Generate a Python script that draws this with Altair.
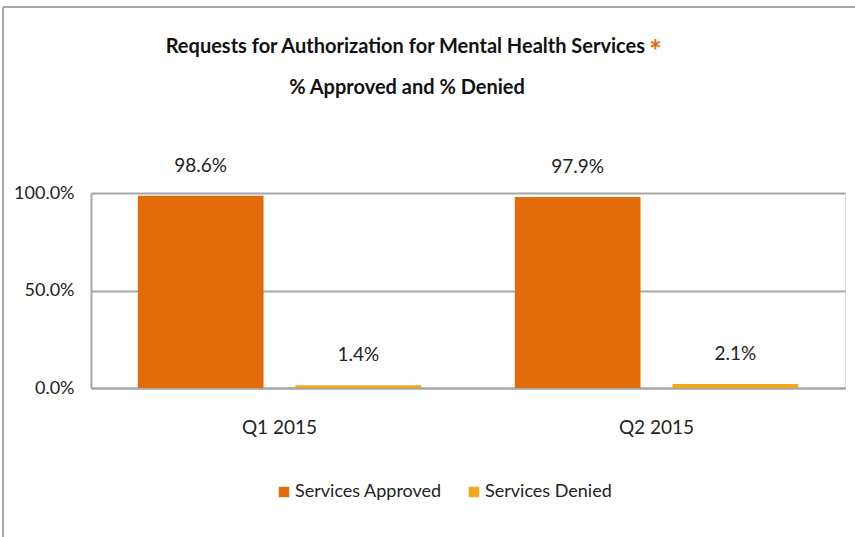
import altair as alt
import pandas as pd

quarters = ["Q1 2015", "Q1 2015", "Q2 2015", "Q2 2015"]
series = ["Services Approved", "Services Denied", "Services Approved", "Services Denied"]
values = [0.986, 0.014, 0.979, 0.021]
labels = ["98.6%", "1.4%", "97.9%", "2.1%"]
y_ticks = [0.0, 0.5, 1.0]
series_order = ["Services Approved", "Services Denied"]
series_colors = ["#E36C0A", "#F2A81D"]
title_line1 = "Requests for Authorization for Mental Health Services"
title_line2 = "% Approved and % Denied"

df = pd.DataFrame({"quarter": quarters, "series": series, "value": values, "label": labels})

FONT = "Lato"
FS = 19

base = alt.Chart(df)

bars = base.mark_bar().encode(
    x=alt.X("quarter:N", title=None,
            scale=alt.Scale(paddingInner=0, paddingOuter=0),
            axis=alt.Axis(labelAngle=0, ticks=False, domain=True, domainColor="#A6A6A6",
                          domainWidth=2, labelPadding=30, labelFontSize=FS,
                          labelFont=FONT, labelColor="#222222")),
    xOffset=alt.XOffset("series:N", sort=series_order,
                        scale=alt.Scale(paddingInner=0.2025, paddingOuter=0.297)),
    y=alt.Y("value:Q", title=None,
            scale=alt.Scale(domain=[0, 1]),
            axis=alt.Axis(values=y_ticks, format=".1%", ticks=False, domain=True,
                          domainColor="#A6A6A6", domainWidth=2, gridColor="#A6A6A6",
                          gridWidth=2, labelPadding=17, labelFontSize=18,
                          labelFont=FONT, labelColor="#222222")),
    color=alt.Color("series:N", sort=series_order,
                    scale=alt.Scale(domain=series_order, range=series_colors),
                    legend=alt.Legend(title=None, orient="none", direction="horizontal",
                                      legendX=184, legendY=290, symbolType="square",
                                      symbolSize=110, symbolStrokeWidth=0,
                                      labelFontSize=18, labelFont=FONT, labelLimit=0,
                                      labelColor="#222222", columnPadding=23,
                                      labelOffset=2)),
)

text = base.mark_text(baseline="bottom", dy=-20, fontSize=FS, font=FONT, color="#222222").encode(
    x=alt.X("quarter:N"),
    xOffset=alt.XOffset("series:N", sort=series_order),
    y=alt.Y("value:Q"),
    text="label:N",
)

t1 = alt.Chart(pd.DataFrame({"t": [title_line1]})).mark_text(
    fontSize=20, fontWeight="bold", font=FONT, color="#111111", align="right", baseline="middle"
).encode(x=alt.value(554), y=alt.value(-146), text="t:N")
ast = alt.Chart(pd.DataFrame({"t": ["*"]})).mark_text(
    fontSize=30, fontWeight="bold", font=FONT, color="#E36C0A", align="left", baseline="middle"
).encode(x=alt.value(558), y=alt.value(-140), text="t:N")
t2 = alt.Chart(pd.DataFrame({"t": [title_line2]})).mark_text(
    fontSize=20, fontWeight="bold", font=FONT, color="#111111", align="center", baseline="middle"
).encode(x=alt.value(316), y=alt.value(-105), text="t:N")

frame_top = alt.Chart(pd.DataFrame({"a": [0]})).mark_rule(color="#A6A6A6", strokeWidth=2).encode(
    x=alt.value(-88), x2=alt.value(780), y=alt.value(-186))
frame_left = alt.Chart(pd.DataFrame({"a": [0]})).mark_rule(color="#A6A6A6", strokeWidth=2).encode(
    x=alt.value(-88), y=alt.value(-186), y2=alt.value(360))

chart = alt.layer(bars, text, t1, ast, t2, frame_top, frame_left).properties(
    width=754, height=195,
    padding={"left": 91, "top": 193, "right": 10, "bottom": 149},
    autosize=alt.AutoSizeParams(type="none"),
).configure_view(stroke=None).configure(background="white")

chart.save("out.html", embed_options={"renderer": "svg", "actions": False})
